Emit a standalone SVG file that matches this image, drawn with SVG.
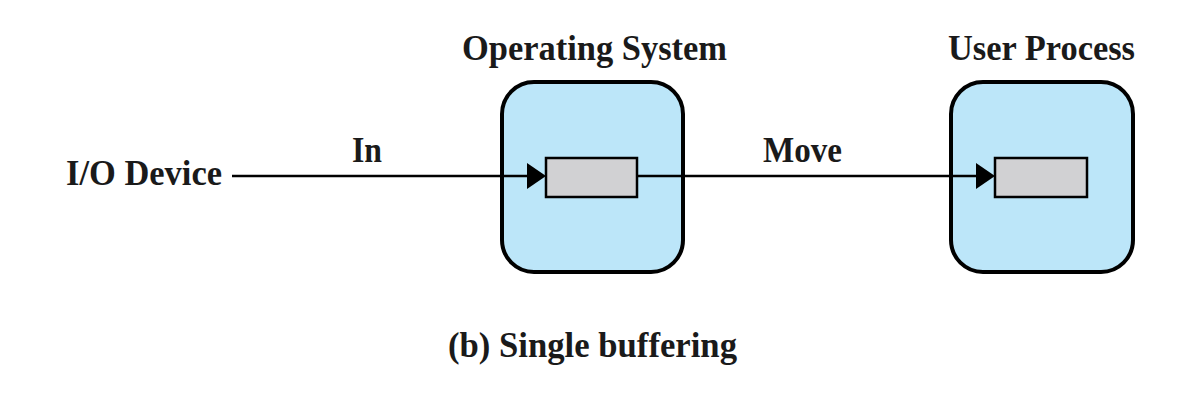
<svg xmlns="http://www.w3.org/2000/svg" width="1193" height="405" viewBox="0 0 1193 405">
<style>
.t{font-family:"Liberation Serif","Times New Roman",serif;font-weight:bold;font-size:36px;fill:#1a1a1a}
.box{fill:#bce6f9;stroke:#000;stroke-width:4}
.buf{fill:#d1d1d3;stroke:#000;stroke-width:2.5}
.ln{stroke:#000;stroke-width:2.5;fill:none}
</style>
<rect width="1193" height="405" fill="#fff"/>
<g id="io">
<text class="t" x="66" y="185" textLength="156" lengthAdjust="spacingAndGlyphs">I/O Device</text>
</g>
<g id="os">
<text class="t" x="462" y="60" textLength="265" lengthAdjust="spacingAndGlyphs">Operating System</text>
<rect class="box" x="502" y="82" width="181" height="190" rx="32"/>
<rect class="buf" x="546" y="158" width="91" height="39"/>
</g>
<g id="up">
<text class="t" x="948" y="60" textLength="187" lengthAdjust="spacingAndGlyphs">User Process</text>
<rect class="box" x="951" y="82" width="182" height="190" rx="32"/>
<rect class="buf" x="995" y="158" width="92" height="39"/>
</g>
<g id="connectors">
<line class="ln" x1="232" y1="176" x2="528" y2="176"/>
<path d="M527,163 L546,176 L527,189 Z" fill="#000"/>
<line class="ln" x1="637" y1="176" x2="977" y2="176"/>
<path d="M976,163 L995,176 L976,189 Z" fill="#000"/>
<text class="t" x="352" y="162" textLength="30" lengthAdjust="spacingAndGlyphs">In</text>
<text class="t" x="763" y="162" textLength="79" lengthAdjust="spacingAndGlyphs">Move</text>
</g>
<text class="t" x="448" y="357" textLength="289" lengthAdjust="spacingAndGlyphs">(b) Single buffering</text>
</svg>
